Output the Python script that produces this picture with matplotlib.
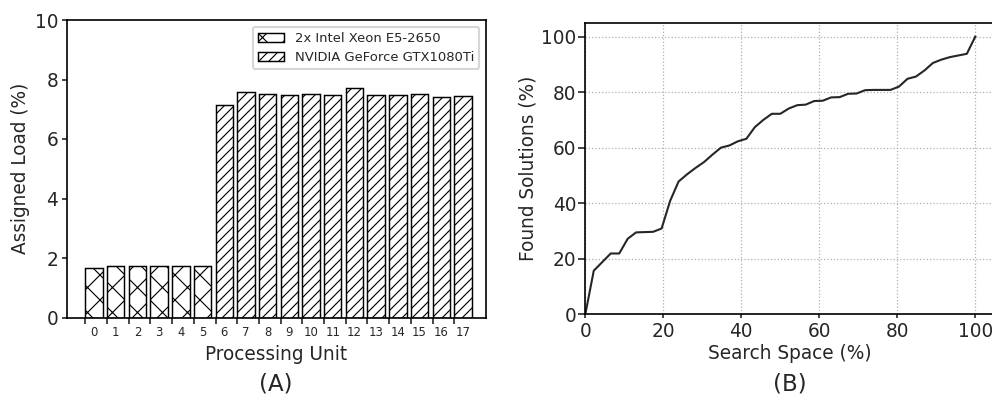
import matplotlib
matplotlib.use("Agg")
import matplotlib.pyplot as plt
import numpy as np

plt.rcParams['font.family'] = ['DejaVu Sans']
plt.rcParams['hatch.linewidth'] = 0.55
TXT = '#262626'

# ---- data (A) ----
units = list(range(18))
cpu_units = [0, 1, 2, 3, 4, 5]
cpu_load = [1.66, 1.72, 1.72, 1.72, 1.72, 1.72]
gpu_units = [6, 7, 8, 9, 10, 11, 12, 13, 14, 15, 16, 17]
gpu_load = [7.15, 7.57, 7.50, 7.49, 7.50, 7.47, 7.72, 7.49, 7.47, 7.50, 7.41, 7.45]
cpu_label = '2x Intel Xeon E5-2650'
gpu_label = 'NVIDIA GeForce GTX1080Ti'

# ---- data (B) ----
search_space = [0.00, 2.17, 4.35, 6.52, 8.70, 10.87, 13.04, 15.22, 17.39, 19.57,
                21.74, 23.91, 26.09, 28.26, 30.43, 32.61, 34.78, 36.96, 39.13, 41.30,
                43.48, 45.65, 47.83, 50.00, 52.17, 54.35, 56.52, 58.70, 60.87, 63.04,
                65.22, 67.39, 69.57, 71.74, 73.91, 76.09, 78.26, 80.43, 82.61, 84.78,
                86.96, 89.13, 91.30, 93.48, 95.65, 97.83, 100.00]
found = [0.0, 15.7, 18.8, 21.9, 21.9, 27.2, 29.5, 29.6, 29.7, 30.9,
         40.8, 47.8, 50.4, 52.7, 54.8, 57.5, 60.0, 60.8, 62.3, 63.2,
         67.4, 70.0, 72.2, 72.2, 74.1, 75.3, 75.5, 76.8, 76.9, 78.1,
         78.2, 79.4, 79.5, 80.7, 80.8, 80.8, 80.8, 82.0, 84.8, 85.6,
         87.8, 90.5, 91.7, 92.6, 93.2, 93.8, 100.0]

W, H = 992, 404
DPI = 150
fig = plt.figure(figsize=(W / DPI, H / DPI), dpi=DPI)

def px_axes(l, r, t, b):
    return [l / W, 1 - b / H, (r - l) / W, (b - t) / H]

FS = 8.9

# ---------- (A) ----------
ax1 = fig.add_axes(px_axes(66.7, 485.7, 20, 317.5))
ax1.bar(cpu_units, cpu_load, width=0.8, color='white', edgecolor='black',
        linewidth=0.7, hatch='xx', label=cpu_label)
ax1.bar(gpu_units, gpu_load, width=0.8, color='white', edgecolor='black',
        linewidth=0.7, hatch='/////', label=gpu_label)
ax1.set_ylim(0, 10)
ax1.set_xlim(-1.26, 18.05)
ax1.set_yticks([0, 2, 4, 6, 8, 10])
ux = np.array(units)
ax1.set_xticks(ux - 0.4)
ax1.set_xticklabels([])
ax1.set_xticks(ux, minor=True)
ax1.set_xticklabels([str(u) for u in units], minor=True)
ax1.tick_params(axis='x', which='minor', length=0, labelsize=5.6, colors=TXT, pad=4.0)
ax1.tick_params(axis='x', which='major', length=3.0, colors=TXT)
ax1.tick_params(axis='y', labelsize=FS, colors=TXT, length=2.5, pad=1.6)
ax1.set_ylabel('Assigned Load (%)', fontsize=FS, color=TXT)
ax1.set_xlabel('Processing Unit', fontsize=FS, color=TXT)
ax1.yaxis.set_label_coords(-0.111, 0.5)
ax1.yaxis.label.set_va('center')
ax1.xaxis.set_label_coords(0.5, -0.123)
ax1.xaxis.label.set_va('center')
leg = ax1.legend(loc='upper right', fontsize=6.3, frameon=True, handlelength=2.0,
                 borderaxespad=0.5, handletextpad=0.8, labelspacing=0.45)
for t in leg.get_texts():
    t.set_color(TXT)

# ---------- (B) ----------
ax2 = fig.add_axes(px_axes(585.3, 994.8, 22.7, 314.3))
ax2.plot(search_space, found, color='#262626', linewidth=1.0)
ax2.set_xlim(0, 105)
ax2.set_ylim(0, 105)
ax2.set_xticks([0, 20, 40, 60, 80, 100])
ax2.set_yticks([0, 20, 40, 60, 80, 100])
ax2.grid(True, linestyle=':', color='#b0b0b0', linewidth=0.6)
ax2.tick_params(axis='x', labelsize=FS, colors=TXT, length=2.0, pad=1.5)
ax2.tick_params(axis='y', labelsize=FS, colors=TXT, length=3.5, pad=0.8)
ax2.set_ylabel('Found Solutions (%)', fontsize=FS, color=TXT)
ax2.set_xlabel('Search Space (%)', fontsize=FS, color=TXT)
ax2.yaxis.set_label_coords(-0.14, 0.5)
ax2.yaxis.label.set_va('center')
ax2.xaxis.set_label_coords(0.5, -0.136)
ax2.xaxis.label.set_va('center')

fig.text(276 / W, 1 - 384 / H, '(A)', fontsize=11, color=TXT, ha='center', va='center')
fig.text(790 / W, 1 - 384 / H, '(B)', fontsize=11, color=TXT, ha='center', va='center')

fig.savefig('out.png', dpi=DPI)
